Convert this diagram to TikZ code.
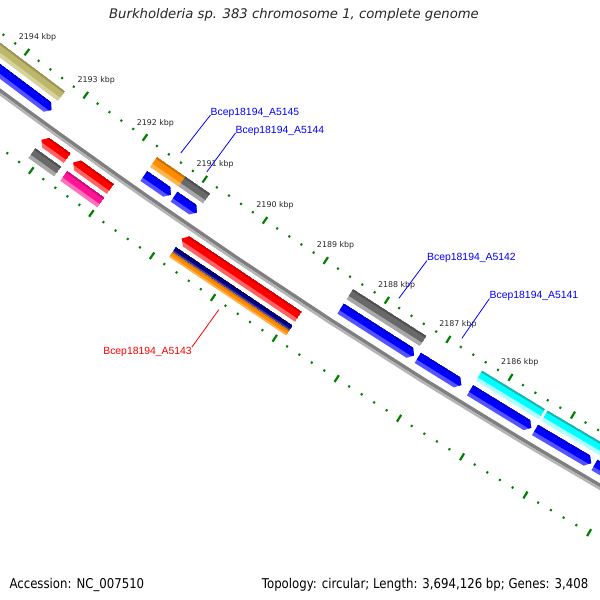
\documentclass[tikz,border=0pt]{standalone}
\usepackage{fontspec}
\setmainfont{DejaVu Sans}
\newfontfamily\glabfont{Liberation Sans}
\newfontfamily\footfont[FakeStretch=0.87]{DejaVu Sans}
\definecolor{tickgreen}{HTML}{008000}
\definecolor{bbT}{HTML}{7F7F7F}
\definecolor{bbL}{HTML}{B4B4B4}
\definecolor{oliveT}{HTML}{9A9455}\definecolor{oliveB}{HTML}{BDB76B}\definecolor{oliveL}{HTML}{D6D29C}
\definecolor{bluT}{HTML}{0000C8}\definecolor{bluB}{HTML}{0000FF}\definecolor{bluL}{HTML}{5555FF}
\definecolor{gryT}{HTML}{505050}\definecolor{gryB}{HTML}{696969}\definecolor{gryL}{HTML}{A8A8A8}
\definecolor{redT}{HTML}{D00000}\definecolor{redB}{HTML}{FF0000}\definecolor{redL}{HTML}{FF6464}
\definecolor{pnkT}{HTML}{C8107A}\definecolor{pnkB}{HTML}{FF1493}\definecolor{pnkL}{HTML}{FF72BA}
\definecolor{orgT}{HTML}{C87000}\definecolor{orgB}{HTML}{FF8C00}\definecolor{orgL}{HTML}{FFB450}
\definecolor{nvyT}{HTML}{000060}\definecolor{nvyB}{HTML}{000080}\definecolor{nvyL}{HTML}{3A3AB0}
\definecolor{cynT}{HTML}{20B2AA}\definecolor{cynB}{HTML}{00FFFF}\definecolor{cynL}{HTML}{B0FFFF}
\pgfmathdeclarefunction{kbpang}{1}{\pgfmathparse{126.495-(2194-#1)*0.6395}}
\tikzset{
  tickmaj/.style={draw=tickgreen, line width=2.2pt},
  tickmin/.style={draw=tickgreen, line width=2pt},
  kbplab/.style={font=\fontsize{7.9}{9}\selectfont, text=black!85, inner sep=0pt},
  genelab/.style={font=\glabfont\fontsize{10.4}{12}\selectfont, inner sep=0pt},
  leader/.style={line width=0.8pt},
  titlestyle/.style={font=\fontsize{13.2}{15}\selectfont\itshape, text=black!85, inner sep=0pt},
  footstyle/.style={font=\footfont\fontsize{13.5}{15}\selectfont, text=black, inner sep=0pt}
}
% #1 tail kbp, #2 tip/end kbp, #3 inner r, #4 outer r, #5 colour family, #6 signed head length (0 = bar)
\newcommand\gfeat[6]{%
  \pgfmathsetmacro\fS{#1}%
  \pgfmathsetmacro\fE{#2}%
  \pgfmathsetmacro\fH{#2+(#6)}%
  \pgfmathsetmacro\fRi{#3}%
  \pgfmathsetmacro\fRo{#4}%
  \pgfmathsetmacro\fRm{(#3+#4)/2}%
  \pgfmathsetmacro\fRa{#3+0.16*(#4-#3)}%
  \pgfmathsetmacro\fRb{#3+0.66*(#4-#3)}%
  \begin{scope}
    \clip ({kbpang(\fS)}:\fRi) -- ({kbpang(\fH)}:\fRi) -- ({kbpang(\fE)}:\fRm) -- ({kbpang(\fH)}:\fRo) -- ({kbpang(\fS)}:\fRo) -- cycle;
    \fill[#5L] ({kbpang(\fS)}:\fRi) -- ({kbpang(\fE)}:\fRi) -- ({kbpang(\fE)}:\fRo) -- ({kbpang(\fS)}:\fRo) -- cycle;
    \fill[#5B] ({kbpang(\fS)}:\fRi) -- ({kbpang(\fE)}:\fRi) -- ({kbpang(\fE)}:\fRb) -- ({kbpang(\fS)}:\fRb) -- cycle;
    \fill[#5T] ({kbpang(\fS)}:\fRi) -- ({kbpang(\fE)}:\fRi) -- ({kbpang(\fE)}:\fRa) -- ({kbpang(\fS)}:\fRa) -- cycle;
  \end{scope}}
\begin{document}
\begin{tikzpicture}[x=1pt,y=-1pt]
\useasboundingbox (0,0) rectangle (600,600);
\fill[white] (0,0) rectangle (600,600);
\begin{scope}
\clip (0,0) rectangle (600,600);
\begin{scope}[shift={(3911,-5198)}]
  % backbone
  \fill[bbT] plot[domain=2182:2197,samples=31] ({kbpang(\x)}:6576) -- plot[domain=2197:2182,samples=31] ({kbpang(\x)}:6579.5) -- cycle;
  \fill[bbL] plot[domain=2182:2197,samples=31] ({kbpang(\x)}:6579.5) -- plot[domain=2197:2182,samples=31] ({kbpang(\x)}:6582) -- cycle;
  % tick rings
  \foreach \i in {0,...,75}{%
    \pgfmathsetmacro\k{2182+\i*0.2}%
    \pgfmathtruncatemacro\ismaj{mod(\i,5)==0}%
    \ifnum\ismaj=1
      \draw[tickmaj] ({kbpang(\k)}:6527) -- ({kbpang(\k)}:6535);
      \draw[tickmaj] ({kbpang(\k)}:6620) -- ({kbpang(\k)}:6628);
    \else
      \draw[tickmin] ({kbpang(\k)}:6529.9) -- ({kbpang(\k)}:6532.1);
      \draw[tickmin] ({kbpang(\k)}:6622.9) -- ({kbpang(\k)}:6625.1);
    \fi}
  \foreach \p in {2186,...,2194}{\node[kbplab] (k\p) at ({kbpang(\p)}:6513) {\p\ kbp};}
  % ring A: genes
  \gfeat{2196}{2193.26}{6540}{6552}{olive}{0}
  \gfeat{2191.71}{2191.24}{6540}{6552}{org}{0}
  \gfeat{2191.24}{2190.83}{6540}{6552}{gry}{0}
  \gfeat{2188.47}{2187.28}{6540}{6552}{gry}{0}
  \gfeat{2186.38}{2185.37}{6540}{6552}{cyn}{0}
  \gfeat{2185.33}{2184.40}{6540}{6552}{cyn}{0}
  % ring B: CDS, reverse direction
  \gfeat{2196}{2193.26}{6557}{6569}{blu}{0.07}
  \gfeat{2191.71}{2191.26}{6557}{6569}{blu}{0.07}
  \gfeat{2191.21}{2190.83}{6557}{6569}{blu}{0.07}
  \gfeat{2188.47}{2187.28}{6557}{6569}{blu}{0.07}
  \gfeat{2187.22}{2186.52}{6557}{6569}{blu}{0.07}
  \gfeat{2186.38}{2185.40}{6557}{6569}{blu}{0.07}
  \gfeat{2185.34}{2184.45}{6557}{6569}{blu}{0.07}
  \gfeat{2184.40}{2183.40}{6557}{6569}{blu}{0.07}
  % ring C: CDS, forward direction
  \gfeat{2192.70}{2193.13}{6587}{6599}{red}{-0.07}
  \gfeat{2191.98}{2192.60}{6587}{6599}{red}{-0.07}
  \gfeat{2188.89}{2190.80}{6587}{6599}{red}{-0.07}
  % ring D: genes
  \gfeat{2192.70}{2193.13}{6603.5}{6615.5}{gry}{0}
  \gfeat{2191.98}{2192.60}{6603.5}{6615.5}{pnk}{0}
  \gfeat{2188.89}{2190.80}{6603.5}{6609.5}{nvy}{0}
  \gfeat{2188.89}{2190.80}{6609.5}{6615.5}{org}{0}
  % leader anchors on features
  \coordinate (e5145) at ({kbpang(2191.475)}:6523);
  \coordinate (e5144) at ({kbpang(2191.035)}:6524);
  \coordinate (e5142) at ({kbpang(2187.875)}:6523);
  \coordinate (e5141) at ({kbpang(2186.85)}:6523);
  \coordinate (e5143) at ({kbpang(2189.845)}:6631);
\end{scope}
\end{scope}
% gene labels
\node[genelab, text=blue, anchor=base west] (L5145) at (210.5,115) {Bcep18194\_A5145};
\node[genelab, text=blue, anchor=base west] (L5144) at (235.5,133) {Bcep18194\_A5144};
\node[genelab, text=blue, anchor=base west] (L5142) at (427,260.5) {Bcep18194\_A5142};
\node[genelab, text=blue, anchor=base west] (L5141) at (489.5,298.5) {Bcep18194\_A5141};
\node[genelab, text=red, anchor=north east] (L5143) at (192,347) {Bcep18194\_A5143};
\draw[leader, blue] (e5145) -- (L5145.base west);
\draw[leader, blue] (e5144) -- (L5144.base west);
\draw[leader, blue] (e5142) -- (L5142.base west);
\draw[leader, blue] (e5141) -- (L5141.base west);
\draw[leader, red] (e5143) -- (L5143.north east);
% title and footer
\node[titlestyle, anchor=base] (title) at (294,18.5) {Burkholderia sp. 383 chromosome 1, complete genome};
\node[footstyle, anchor=base west] (acc) at (9.3,588) {Accession: NC\_007510};
\node[footstyle, anchor=base west] (topo) at (261.7,588) {Topology: circular; Length: 3,694,126 bp; Genes: 3,408};
\end{tikzpicture}
\end{document}
